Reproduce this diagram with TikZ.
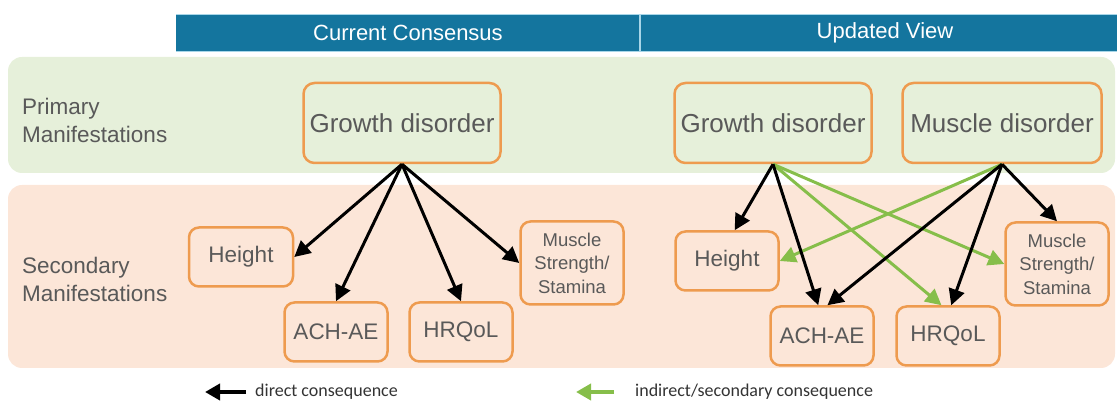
\documentclass[tikz,border=0pt]{standalone}
\usepackage{fontspec}
\setmainfont{Liberation Sans}
\newfontfamily\legendfont{Carlito}
\usetikzlibrary{arrows.meta}
\definecolor{hdr}{HTML}{14759E}
\definecolor{hdrline}{HTML}{A8D6E8}
\definecolor{greenband}{HTML}{E6F0DA}
\definecolor{orangeband}{HTML}{FCE6D8}
\definecolor{boxline}{HTML}{EE9B4F}
\definecolor{txtgray}{HTML}{595959}
\definecolor{arrgreen}{HTML}{86BE4A}
\definecolor{legtxt}{HTML}{333333}
\begin{document}
\begin{tikzpicture}[x=1pt,y=-1pt,
  prim/.style={draw=boxline, line width=2.5pt, rounded corners=11pt, fill=greenband,
    text=txtgray, font=\fontsize{26}{30}\selectfont, inner sep=0pt, align=center,
    minimum width=197pt, minimum height=80pt},
  sec/.style={draw=boxline, line width=2.5pt, rounded corners=10pt, fill=orangeband,
    text=txtgray, font=\fontsize{22.5}{26}\selectfont, inner sep=0pt, align=center,
    minimum width=103pt, minimum height=59pt},
  msbox/.style={sec, font=\fontsize{18.5}{23.5}\selectfont, minimum height=83pt},
  bandlabel/.style={anchor=west, text=txtgray, font=\fontsize{22.5}{28}\selectfont, align=left, inner sep=0pt},
  hdrtext/.style={text=white, font=\fontsize{22}{26}\selectfont, inner sep=0pt},
  legendtext/.style={anchor=west, text=legtxt, font=\legendfont\fontsize{18}{22}\selectfont, inner sep=0pt},
  blk/.style={draw=black, line width=3pt, -{Triangle[length=16pt,width=16pt]}},
  grn/.style={draw=arrgreen, line width=3pt, -{Triangle[length=16pt,width=16pt]}},
  legarrow/.style={line width=4pt, -{Triangle[length=15pt,width=16pt]}}
]
\useasboundingbox (0,0) rectangle (1117,403);
% header
\fill[hdr] (176,14) rectangle (1117,52);
\draw[hdrline, line width=1.2pt] (176,14.5) -- (1117,14.5);
\draw[hdrline, line width=1.2pt] (176,51.5) -- (1117,51.5);
\draw[hdrline, line width=1.2pt] (640,14) -- (640,52);
\node[hdrtext] (hcc) at (408,33) {Current Consensus};
\node[hdrtext] (huv) at (885,33) {Updated View};
% bands
\fill[greenband, rounded corners=14pt] (8,57) rectangle (1115,173);
\fill[orangeband, rounded corners=14pt] (8,185) rectangle (1115,368);
\node[bandlabel] (plab) at (22,120) {Primary\\Manifestations};
\node[bandlabel] (slab) at (22,279) {Secondary\\Manifestations};
% primary boxes
\node[prim] (lgd) at (402,123) {Growth disorder};
\node[prim] (rgd) at (773,123) {Growth disorder};
\node[prim, minimum width=199pt] (rmd) at (1002,123) {Muscle disorder};
% left secondary
\node[sec, minimum width=104pt] (lh) at (241,257) {Height};
\node[sec] (lach) at (336,332) {ACH-AE};
\node[sec] (lhr) at (461,332) {HRQoL};
\node[msbox] (lms) at (572,263) {Muscle\\Strength/\\Stamina};
% right secondary
\node[sec] (rh) at (727,261) {Height};
\node[sec] (rach) at (822,336) {ACH-AE};
\node[sec] (rhr) at (948,336) {HRQoL};
\node[msbox] (rms) at (1057,264) {Muscle\\Strength/\\Stamina};
% left arrows
\draw[blk] (lgd.south) -- (lh.east);
\draw[blk] (lgd.south) -- (lach.north);
\draw[blk] (lgd.south) -- (lhr.north);
\draw[blk] (lgd.south) -- (lms.west);
% right arrows
\draw[grn] (rgd.south) -- (rhr.102);
\draw[grn] (rgd.south) -- (rms.west);
\draw[grn] (rmd.south) -- (rh.east);
\draw[blk] (rgd.south) -- (rh.76);
\draw[blk] (rgd.south) -- (rach.97);
\draw[blk] (rmd.south) -- (rach.80);
\draw[blk] (rmd.south) -- (rhr.84);
\draw[blk] (rmd.south) -- (rms.north);
% legend
\coordinate (l1s) at (246,392);
\coordinate (l1e) at (205,392);
\coordinate (l2s) at (614,392);
\coordinate (l2e) at (576,392);
\draw[legarrow, draw=black] (l1s) -- (l1e);
\draw[legarrow, draw=arrgreen] (l2s) -- (l2e);
\node[legendtext] (l1t) at (255,392) {direct consequence};
\node[legendtext] (l2t) at (635,392) {indirect/secondary consequence};
\end{tikzpicture}
\end{document}
